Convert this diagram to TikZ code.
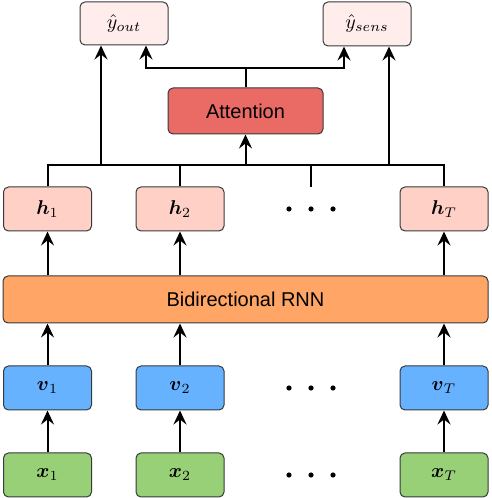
\documentclass[tikz,border=0pt]{standalone}
\usepackage{amsmath}
\usepackage{fontspec}
\setsansfont{Liberation Sans}
\usetikzlibrary{arrows.meta,positioning,calc}

\definecolor{edgegray}{HTML}{36393D}
\definecolor{outpink}{HTML}{FFEDEB}
\definecolor{attred}{HTML}{EA6B66}
\definecolor{hidpink}{HTML}{FFD1C6}
\definecolor{rnnorange}{HTML}{FFA566}
\definecolor{embblue}{HTML}{66B2FF}
\definecolor{ingreen}{HTML}{97D077}

\tikzset{
  box/.style={draw=edgegray, line width=0.5pt, rounded corners=2.5pt,
    minimum width=44pt, minimum height=22pt, inner sep=0pt},
  link/.style={line width=1pt},
  arr/.style={line width=1pt, -{Stealth[length=7pt,width=6.5pt,inset=2.5pt]}}
}

\begin{document}
\begin{tikzpicture}[x=0.5pt,y=0.5pt]
\useasboundingbox (0,0) rectangle (492,498);

% Inputs, embeddings and hidden states
\node[box,fill=ingreen] (x1) at (47.5,23) {$\boldsymbol{x}_1$};
\node[box,fill=ingreen] (x2) at (180,23) {$\boldsymbol{x}_2$};
\node[box,fill=ingreen] (xT) at (444,23) {$\boldsymbol{x}_T$};

\node[box,fill=embblue] (v1) at (47.5,110) {$\boldsymbol{v}_1$};
\node[box,fill=embblue] (v2) at (180,110) {$\boldsymbol{v}_2$};
\node[box,fill=embblue] (vT) at (444,110) {$\boldsymbol{v}_T$};

\node[box,fill=rnnorange,minimum width=242.5pt,minimum height=23.5pt] (rnn) at (245.5,198.5) {\sffamily Bidirectional RNN};

\node[box,fill=hidpink] (h1) at (47.5,289) {$\boldsymbol{h}_1$};
\node[box,fill=hidpink] (h2) at (180,289) {$\boldsymbol{h}_2$};
\node[box,fill=hidpink] (hT) at (444,289) {$\boldsymbol{h}_T$};

% Attention and outputs
\node[box,fill=attred,minimum width=77.5pt,minimum height=23pt] (att) at (245.5,387) {\sffamily Attention};
\node[box,fill=outpink,minimum height=21.5pt] (yout) at (124,474.5) {$\hat{y}_{out}$};
\node[box,fill=outpink] (ysens) at (367,474) {$\hat{y}_{sens}$};

% Dots for the skipped steps
\foreach \y in {23,110,289}{
  \foreach \x in {289,311,333}{
    \fill (\x,\y) circle (1.3pt);
  }
}

% Vertical flow
\foreach \i in {1,2,T}{
  \draw[arr] (x\i) -- (v\i);
  \draw[arr] (v\i) -- (v\i |- rnn.south);
  \draw[arr] (rnn.north -| h\i) -- (h\i);
}

% Bus above the hidden states
\coordinate (bus) at (0,333);
\coordinate (h3) at (311,311);
\draw[link] (h1.north) |- (bus -| hT.north) -- (hT.north);
\draw[link] (h2.north) -- (h2.north |- bus);
\draw[link] (h3) -- (h3 |- bus);

\coordinate (b1) at (101,333);
\coordinate (b2) at (389,333);
\draw[arr] (b1) -- (b1 |- yout.south);
\draw[arr] (b2) -- (b2 |- ysens.south);
\draw[arr] (att.south |- bus) -- (att.south);

% Attention to both outputs
\coordinate (t1) at (146,430);
\coordinate (t2) at (344,430);
\draw[arr] (att.north) |- (t1) -- (t1 |- yout.south);
\draw[arr] (att.north) |- (t2) -- (t2 |- ysens.south);

\end{tikzpicture}
\end{document}
